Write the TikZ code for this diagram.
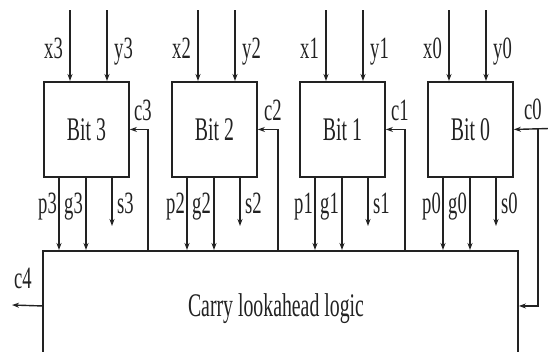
\documentclass[tikz,border=0pt]{standalone}
\usepackage{fontspec}
\setmainfont{Liberation Serif}[FakeStretch=0.6]
\usetikzlibrary{arrows.meta}
\definecolor{ink}{HTML}{222222}
\tikzset{
  unit/.style={draw=ink, line width=1.9pt, minimum width=85pt, minimum height=95pt,
    inner sep=0pt, anchor=north west, text=ink, font=\fontsize{33}{38}\selectfont},
  cla/.style={draw=ink, line width=1.9pt, minimum width=475pt, minimum height=110pt,
    inner sep=0pt, anchor=north west},
  wire/.style={draw=ink, line width=1.4pt},
  arr/.style={wire, -{Stealth[length=7pt,width=5pt]}},
  lbl/.style={inner sep=0pt, text=ink, font=\fontsize{31}{36}\selectfont},
}
\begin{document}
\begin{tikzpicture}[x=1pt, y=-1pt]
\useasboundingbox (0,0) rectangle (548,351);

% carry lookahead block (runs past the lower edge)
\begin{scope}
  \clip (0,0) rectangle (548,351);
  \node[cla] (cla) at (42,250) {};
\end{scope}
\node[text=ink, font=\fontsize{33}{38}\selectfont, anchor=base, inner sep=0pt] (clatext) at (276,316) {Carry lookahead logic};

% one-bit units
\foreach \i/\L in {3/43, 2/171, 1/299, 0/427}{
  \node[unit] (b\i) at (\L,81) {Bit \i};
}

% operand inputs
\foreach \i/\xa/\ya in {3/70/107, 2/198/235, 1/326/363, 0/449/486}{
  \coordinate (x\i in) at (\xa,10);
  \coordinate (y\i in) at (\ya,10);
  \draw[arr] (x\i in) -- (x\i in |- b\i.north);
  \draw[arr] (y\i in) -- (y\i in |- b\i.north);
  \node[lbl, anchor=base east] (x\i lbl) at (\xa-7,58) {x\i};
  \node[lbl, anchor=base west] (y\i lbl) at (\ya+7,58) {y\i};
}

% propagate, generate and sum outputs
\foreach \i/\L in {3/43, 2/171, 1/299, 0/427}{
  \coordinate (p\i top) at (\L+16,176);
  \coordinate (g\i top) at (\L+43,176);
  \coordinate (s\i top) at (\L+69,176);
  \coordinate (s\i end) at (\L+69,226);
  \draw[arr] (p\i top) -- (p\i top |- cla.north);
  \draw[arr] (g\i top) -- (g\i top |- cla.north);
  \draw[arr] (s\i top) -- (s\i end);
  \node[lbl, anchor=base east] (p\i lbl) at (\L+14,213) {p\i};
  \node[lbl, anchor=base east] (g\i lbl) at (\L+40,213) {g\i};
  \node[lbl, anchor=base west] (s\i lbl) at (\L+74,213) {s\i};
}

% carries fed back from the lookahead block
\foreach \i/\cx in {3/148, 2/278, 1/405}{
  \coordinate (c\i base) at (\cx,250);
  \draw[arr] (c\i base) |- (b\i.east);
  \node[lbl, anchor=base] (c\i lbl) at (\cx-5,120) {c\i};
}

% carry in
\coordinate (c0in) at (549,128.5);
\coordinate (c0tap) at (538,128.5);
\draw[arr] (c0in) -- (b0.east);
\draw[arr] (c0tap) |- (cla.east);
\node[lbl, anchor=base] (c0lbl) at (533,119) {c0};

% carry out
\coordinate (c4out) at (12,305);
\draw[arr] (cla.west) -- (c4out);
\node[lbl, anchor=base] (c4lbl) at (23,288) {c4};
\end{tikzpicture}
\end{document}
